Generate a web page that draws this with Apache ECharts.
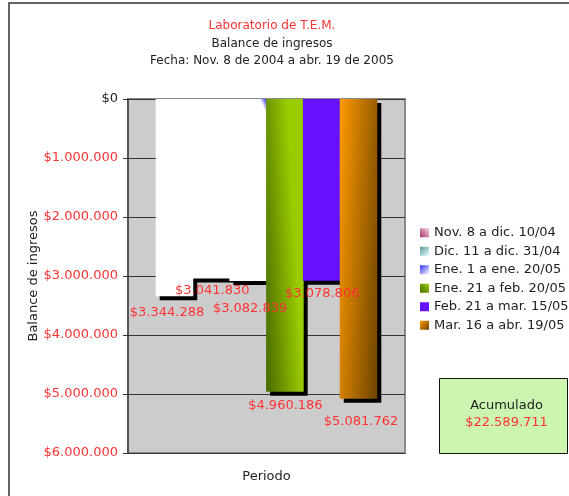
<!DOCTYPE html>
<html>
<head>
<meta charset="utf-8">
<script src="https://cdn.jsdelivr.net/npm/echarts@6/dist/echarts.min.js"></script>
<style>
  html, body { margin: 0; padding: 0; background: #fff; }
  #chart { width: 569px; height: 496px; }
</style>
</head>
<body>
<div id="chart"></div>
<script>
// Income balance per period (pesos)
var periods = [
  'Nov. 8 a dic. 10/04',
  'Dic. 11 a dic. 31/04',
  'Ene. 1 a ene. 20/05',
  'Ene. 21 a feb. 20/05',
  'Feb. 21 a mar. 15/05',
  'Mar. 16 a abr. 19/05'
];
var balances = [3344288, 3041830, 3082839, 4960186, 3078806, 5081762];
var yTicks = [0, 1000000, 2000000, 3000000, 4000000, 5000000, 6000000];

function money(v) {
  return '$' + String(Math.round(v)).replace(/\B(?=(\d{3})+(?!\d))/g, '.');
}
function lin(x, y, x2, y2, c0, c1) {
  return { type: 'linear', x: x, y: y, x2: x2, y2: y2,
    colorStops: [{ offset: 0, color: c0 }, { offset: 1, color: c1 }] };
}

var FONT = 'DejaVu Sans';
var RED = '#ff3333';
var INK = '#222';

// bar fills
var barFills = [
  '#ffffff',
  '#ffffff',
  { type: 'linear', x: 1, y: 0, x2: 0.84, y2: 0.016,
    colorStops: [{ offset: 0, color: '#2020ff' }, { offset: 0.35, color: '#6a6aff' }, { offset: 1, color: '#ffffff' }] },
  lin(0, 1, 0.997, 0.9928, '#486800', '#9acd00'),
  '#6611ff',
  lin(0, 0, 1.43, 0.0093, '#ff9a00', '#6a4200')
];
// legend swatches
var legendFills = [
  lin(0, 1, 1, 0, '#a8306c', '#f4d0e2'),
  lin(0, 0, 1, 1, '#5a9a9a', '#e4ffff'),
  lin(0, 0, 1, 1, '#3030ff', '#ffffff'),
  lin(0, 1, 1, 0, '#4a6a00', '#9acd00'),
  '#6611ff',
  lin(0, 0, 1, 1, '#ff9a00', '#6e4400')
];
// label placement tweaks: [distance below bar, x shift]
var labelPlace = [[10, -7.5], [6, 1], [21, 2], [7, 0.5], [6, 0.5], [16, 2.5]];

var total = balances.reduce(function (a, b) { return a + b; }, 0);

var series = periods.map(function (name, i) {
  return {
    name: name,
    type: 'bar',
    // slight overlap so neighbouring bars close without seams
    barGap: '-2%',
    barCategoryGap: '20%',
    data: [balances[i]],
    itemStyle: {
      color: barFills[i],
      shadowColor: '#000',
      shadowBlur: 0,
      shadowOffsetX: 4,
      shadowOffsetY: 4
    },
    label: {
      show: true,
      position: 'bottom',
      distance: labelPlace[i][0],
      offset: [labelPlace[i][1], 0],
      formatter: function (p) { return money(p.value); },
      color: RED,
      fontFamily: FONT,
      fontSize: 13
    },
    emphasis: { disabled: true },
    silent: true
  };
});

var chart = echarts.init(document.getElementById('chart'), null, { renderer: 'canvas' });
chart.setOption({
  animation: false,
  backgroundColor: '#fff',
  title: {
    text: 'Laboratorio de T.E.M.',
    subtext: 'Balance de ingresos\nFecha: Nov. 8 de 2004 a abr. 19 de 2005',
    left: 272,
    top: 17,
    textAlign: 'center',
    itemGap: 1,
    padding: 0,
    textStyle: { color: RED, fontFamily: FONT, fontSize: 12, fontWeight: 'normal', lineHeight: 17 },
    subtextStyle: { color: INK, fontFamily: FONT, fontSize: 12, lineHeight: 17.5 }
  },
  legend: {
    orient: 'vertical',
    left: 420,
    top: 225,
    itemWidth: 9,
    itemHeight: 9,
    itemGap: 3,
    padding: 0,
    icon: 'rect',
    selectedMode: false,
    textStyle: { color: INK, fontFamily: FONT, fontSize: 13, lineHeight: 15.5 },
    data: periods.map(function (n, i) {
      return { name: n, itemStyle: { color: legendFills[i], borderWidth: 0, shadowBlur: 0, shadowOffsetX: 0, shadowOffsetY: 0, shadowColor: 'transparent' } };
    })
  },
  grid: {
    left: 128, top: 99, width: 277, height: 354,
    show: true,
    backgroundColor: '#cccccc',
    borderColor: '#8a8a8a',
    borderWidth: 2
  },
  xAxis: {
    type: 'category',
    data: [''],
    name: 'Periodo',
    nameLocation: 'middle',
    nameGap: 17,
    nameTextStyle: { color: INK, fontFamily: FONT, fontSize: 13 },
    axisLine: { show: false, onZero: false },
    axisTick: { show: false },
    axisLabel: { show: false },
    splitLine: { show: false }
  },
  yAxis: {
    type: 'value',
    inverse: true,
    min: yTicks[0],
    max: yTicks[yTicks.length - 1],
    interval: yTicks[1] - yTicks[0],
    name: 'Balance de ingresos',
    nameLocation: 'middle',
    nameRotate: 90,
    nameGap: 88,
    nameTextStyle: { color: INK, fontFamily: FONT, fontSize: 13 },
    axisLine: { show: true, lineStyle: { color: '#444', width: 1.5 } },
    axisTick: { show: true, length: 5, lineStyle: { color: '#333' } },
    axisLabel: {
      margin: 10,
      fontFamily: FONT,
      fontSize: 13,
      formatter: function (v) { return money(v); },
      color: function (v) { return Number(v) === 0 ? INK : RED; }
    },
    splitLine: { show: true, lineStyle: { color: '#333', width: 1 } }
  },
  graphic: [
    {
      type: 'rect',
      shape: { x: 9, y: 3, width: 700, height: 600 },
      style: { fill: 'none', stroke: '#333', lineWidth: 1.5 },
      silent: true, z: 100
    },
    {
      type: 'group',
      left: 439, top: 378,
      children: [
        { type: 'rect', shape: { x: 0, y: 0, width: 128, height: 75 },
          style: { fill: '#ccf6b0', stroke: '#111', lineWidth: 1 } },
        { type: 'text', x: 67, y: 27,
          style: { text: 'Acumulado', fill: INK, font: '13px "DejaVu Sans"', textAlign: 'center', textVerticalAlign: 'middle' } },
        { type: 'text', x: 67, y: 44,
          style: { text: money(total), fill: RED, font: '13px "DejaVu Sans"', textAlign: 'center', textVerticalAlign: 'middle' } }
      ]
    }
  ],
  series: series
});
</script>
</body>
</html>
